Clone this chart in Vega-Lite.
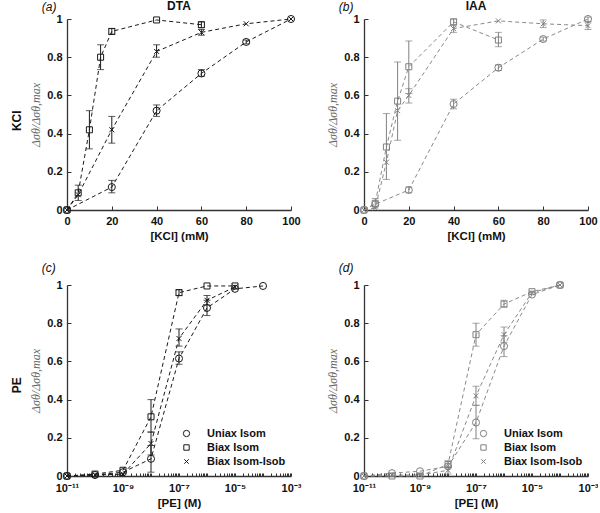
{
  "$schema": "https://vega.github.io/schema/vega-lite/v6.json",
  "background": "white",
  "padding": {"left": 10, "top": 0, "right": 0, "bottom": 2},
  "config": {
    "view": {"stroke": null},
    "font": "Liberation Sans",
    "axis": {"domainColor": "#333", "domainWidth": 1.3, "tickColor": "#333", "tickWidth": 1, "tickSize": -4, "labelPadding": 9, "labelOverlap": false, "labelFlush": false, "labelFont": "Liberation Sans", "labelFontWeight": "bold", "labelFontSize": 11, "labelColor": "#111", "titleFont": "Liberation Sans", "titleFontWeight": "bold", "titleFontSize": 11.5, "titleColor": "#111", "grid": false},
    "axisY": {"titleFont": "Liberation Serif", "titleFontWeight": "normal", "titleFontStyle": "italic", "titleColor": "#666", "titleFontSize": 12, "titlePadding": 4},
    "axisX": {"titlePadding": 4},
    "title": {"font": "Liberation Sans", "color": "#111"},
    "legend": {"labelFont": "Liberation Sans", "labelFontWeight": "bold", "labelFontSize": 11, "labelColor": "#111"}
  },
  "datasets": {
    "d": [
      {"p":"a","s":"Uniax Isom","x":0,"y":0},
      {"p":"a","s":"Uniax Isom","x":20,"y":0.12,"lo":0.09,"hi":0.155},
      {"p":"a","s":"Uniax Isom","x":40,"y":0.52,"lo":0.49,"hi":0.55},
      {"p":"a","s":"Uniax Isom","x":60,"y":0.715,"lo":0.70,"hi":0.735},
      {"p":"a","s":"Uniax Isom","x":80,"y":0.88,"lo":0.87,"hi":0.89},
      {"p":"a","s":"Uniax Isom","x":100,"y":1.0},
      {"p":"a","s":"Biax Isom","x":0,"y":0},
      {"p":"a","s":"Biax Isom","x":5,"y":0.09,"lo":0.05,"hi":0.13},
      {"p":"a","s":"Biax Isom","x":10,"y":0.42,"lo":0.32,"hi":0.52},
      {"p":"a","s":"Biax Isom","x":15,"y":0.80,"lo":0.735,"hi":0.865},
      {"p":"a","s":"Biax Isom","x":20,"y":0.935,"lo":0.92,"hi":0.95},
      {"p":"a","s":"Biax Isom","x":40,"y":0.995},
      {"p":"a","s":"Biax Isom","x":60,"y":0.97,"lo":0.955,"hi":0.985},
      {"p":"a","s":"Biax Isom-Isob","x":0,"y":0},
      {"p":"a","s":"Biax Isom-Isob","x":5,"y":0.08},
      {"p":"a","s":"Biax Isom-Isob","x":20,"y":0.42,"lo":0.35,"hi":0.49},
      {"p":"a","s":"Biax Isom-Isob","x":40,"y":0.83,"lo":0.80,"hi":0.865},
      {"p":"a","s":"Biax Isom-Isob","x":60,"y":0.93,"lo":0.915,"hi":0.945},
      {"p":"a","s":"Biax Isom-Isob","x":80,"y":0.975},
      {"p":"a","s":"Biax Isom-Isob","x":100,"y":1.0},

      {"p":"b","s":"Uniax Isom","x":0,"y":0},
      {"p":"b","s":"Uniax Isom","x":5,"y":0.03},
      {"p":"b","s":"Uniax Isom","x":20,"y":0.105,"lo":0.09,"hi":0.12},
      {"p":"b","s":"Uniax Isom","x":40,"y":0.555,"lo":0.53,"hi":0.58},
      {"p":"b","s":"Uniax Isom","x":60,"y":0.745,"lo":0.73,"hi":0.76},
      {"p":"b","s":"Uniax Isom","x":80,"y":0.895,"lo":0.885,"hi":0.905},
      {"p":"b","s":"Uniax Isom","x":100,"y":1.0,"lo":0.985,"hi":1.01},
      {"p":"b","s":"Biax Isom","x":0,"y":0},
      {"p":"b","s":"Biax Isom","x":5,"y":0.035,"lo":0.01,"hi":0.06},
      {"p":"b","s":"Biax Isom","x":10,"y":0.33,"lo":0.16,"hi":0.505},
      {"p":"b","s":"Biax Isom","x":15,"y":0.57,"lo":0.365,"hi":0.775},
      {"p":"b","s":"Biax Isom","x":20,"y":0.75,"lo":0.61,"hi":0.885},
      {"p":"b","s":"Biax Isom","x":40,"y":0.985,"lo":0.97,"hi":1.0},
      {"p":"b","s":"Biax Isom","x":60,"y":0.89,"lo":0.855,"hi":0.93},
      {"p":"b","s":"Biax Isom-Isob","x":0,"y":0},
      {"p":"b","s":"Biax Isom-Isob","x":5,"y":0.01},
      {"p":"b","s":"Biax Isom-Isob","x":10,"y":0.25},
      {"p":"b","s":"Biax Isom-Isob","x":15,"y":0.52},
      {"p":"b","s":"Biax Isom-Isob","x":20,"y":0.60,"lo":0.56,"hi":0.635},
      {"p":"b","s":"Biax Isom-Isob","x":40,"y":0.95,"lo":0.93,"hi":0.965},
      {"p":"b","s":"Biax Isom-Isob","x":60,"y":0.99},
      {"p":"b","s":"Biax Isom-Isob","x":80,"y":0.975,"lo":0.955,"hi":0.995},
      {"p":"b","s":"Biax Isom-Isob","x":100,"y":0.965,"lo":0.945,"hi":0.985},

      {"p":"c","s":"Uniax Isom","x":1e-11,"y":0},
      {"p":"c","s":"Uniax Isom","x":1e-10,"y":0.005},
      {"p":"c","s":"Uniax Isom","x":1e-9,"y":0.02},
      {"p":"c","s":"Uniax Isom","x":1e-8,"y":0.09,"lo":0.02,"hi":0.16},
      {"p":"c","s":"Uniax Isom","x":1e-7,"y":0.615,"lo":0.585,"hi":0.65},
      {"p":"c","s":"Uniax Isom","x":1e-6,"y":0.88,"lo":0.84,"hi":0.92},
      {"p":"c","s":"Uniax Isom","x":1e-5,"y":0.98},
      {"p":"c","s":"Uniax Isom","x":1e-4,"y":0.995},
      {"p":"c","s":"Biax Isom","x":1e-11,"y":0},
      {"p":"c","s":"Biax Isom","x":1e-10,"y":0.01},
      {"p":"c","s":"Biax Isom","x":1e-9,"y":0.03},
      {"p":"c","s":"Biax Isom","x":1e-8,"y":0.31,"lo":0.23,"hi":0.40},
      {"p":"c","s":"Biax Isom","x":1e-7,"y":0.96,"lo":0.945,"hi":0.975},
      {"p":"c","s":"Biax Isom","x":1e-6,"y":0.995},
      {"p":"c","s":"Biax Isom","x":1e-5,"y":0.995},
      {"p":"c","s":"Biax Isom-Isob","x":1e-11,"y":0},
      {"p":"c","s":"Biax Isom-Isob","x":1e-10,"y":0.005},
      {"p":"c","s":"Biax Isom-Isob","x":1e-9,"y":0.01},
      {"p":"c","s":"Biax Isom-Isob","x":1e-8,"y":0.17,"lo":0.11,"hi":0.23},
      {"p":"c","s":"Biax Isom-Isob","x":1e-7,"y":0.72,"lo":0.68,"hi":0.77},
      {"p":"c","s":"Biax Isom-Isob","x":1e-6,"y":0.92,"lo":0.895,"hi":0.945},
      {"p":"c","s":"Biax Isom-Isob","x":1e-5,"y":0.99},

      {"p":"d","s":"Uniax Isom","x":1e-11,"y":0},
      {"p":"d","s":"Uniax Isom","x":1e-10,"y":0.015},
      {"p":"d","s":"Uniax Isom","x":1e-9,"y":0.025},
      {"p":"d","s":"Uniax Isom","x":1e-8,"y":0.05},
      {"p":"d","s":"Uniax Isom","x":1e-7,"y":0.28,"lo":0.195,"hi":0.37},
      {"p":"d","s":"Uniax Isom","x":1e-6,"y":0.68,"lo":0.625,"hi":0.735},
      {"p":"d","s":"Uniax Isom","x":1e-5,"y":0.95},
      {"p":"d","s":"Uniax Isom","x":1e-4,"y":1.0},
      {"p":"d","s":"Biax Isom","x":1e-11,"y":0},
      {"p":"d","s":"Biax Isom","x":1e-10,"y":0},
      {"p":"d","s":"Biax Isom","x":1e-9,"y":0},
      {"p":"d","s":"Biax Isom","x":1e-8,"y":0.06,"lo":0.045,"hi":0.08},
      {"p":"d","s":"Biax Isom","x":1e-7,"y":0.74,"lo":0.68,"hi":0.80},
      {"p":"d","s":"Biax Isom","x":1e-6,"y":0.90,"lo":0.885,"hi":0.92},
      {"p":"d","s":"Biax Isom","x":1e-5,"y":0.965},
      {"p":"d","s":"Biax Isom","x":1e-4,"y":1.0},
      {"p":"d","s":"Biax Isom-Isob","x":1e-11,"y":0},
      {"p":"d","s":"Biax Isom-Isob","x":1e-10,"y":0.005},
      {"p":"d","s":"Biax Isom-Isob","x":1e-9,"y":0.005},
      {"p":"d","s":"Biax Isom-Isob","x":1e-8,"y":0.03,"lo":0.01,"hi":0.05},
      {"p":"d","s":"Biax Isom-Isob","x":1e-7,"y":0.42,"lo":0.37,"hi":0.47},
      {"p":"d","s":"Biax Isom-Isob","x":1e-6,"y":0.74,"lo":0.70,"hi":0.78},
      {"p":"d","s":"Biax Isom-Isob","x":1e-5,"y":0.96},
      {"p":"d","s":"Biax Isom-Isob","x":1e-4,"y":1.0}
    ]
  },
  "resolve": {"scale": {"shape": "independent"}, "legend": {"shape": "independent"}},
  "spacing": 20,
  "vconcat": [
    {
      "title": {"text": "KCl", "orient": "left", "anchor": "middle", "fontSize": 12, "fontWeight": "bold", "offset": 6},
      "spacing": 25,
      "resolve": {"scale": {"shape": "independent"}, "legend": {"shape": "independent"}},
      "hconcat": [
        {
          "title": {"text": "(a)", "anchor": "start", "fontStyle": "italic", "fontWeight": "normal", "fontSize": 12, "offset": -14, "dx": 12},
          "resolve": {"scale": {"shape": "independent"}, "legend": {"shape": "independent"}},
          "vconcat": [
            {
              "data": {"name": "d"},
              "transform": [{"filter": "datum.p == 'a'"}],
              "width": 224, "height": 191,
              "title": {"text": "DTA", "fontSize": 12, "fontWeight": "bold", "offset": 0},
              "encoding": {"x": {"field": "x", "type": "quantitative", "scale": {"domain": [0, 100], "nice": false}, "axis": {"title": "[KCl] (mM)", "values": [0, 20, 40, 60, 80, 100], "format": "d"}}},
              "layer": [
                {"mark": {"type": "line", "strokeDash": [4, 3], "strokeWidth": 1, "color": "#1a1a1a"},
                 "encoding": {"y": {"field": "y", "type": "quantitative", "scale": {"domain": [0, 1], "nice": false}, "title": "Δσθ/Δσθ,max", "axis": {"values": [0, 0.2, 0.4, 0.6, 0.8, 1], "format": "~g", "labelOverlap": false}}, "detail": {"field": "s"}}},
                {"transform": [{"filter": "isValid(datum.lo)"}], "mark": {"type": "rule", "strokeWidth": 1, "color": "#1a1a1a"},
                 "encoding": {"y": {"field": "lo", "type": "quantitative", "title": "Δσθ/Δσθ,max", "axis": {"values": [0, 0.2, 0.4, 0.6, 0.8, 1], "format": "~g", "labelOverlap": false}}, "y2": {"field": "hi"}}},
                {"transform": [{"filter": "isValid(datum.lo)"}], "mark": {"type": "tick", "orient": "horizontal", "size": 7, "thickness": 1, "color": "#1a1a1a"},
                 "encoding": {"y": {"field": "lo", "type": "quantitative", "title": "Δσθ/Δσθ,max", "axis": {"values": [0, 0.2, 0.4, 0.6, 0.8, 1], "format": "~g", "labelOverlap": false}}}},
                {"transform": [{"filter": "isValid(datum.lo)"}], "mark": {"type": "tick", "orient": "horizontal", "size": 7, "thickness": 1, "color": "#1a1a1a"},
                 "encoding": {"y": {"field": "hi", "type": "quantitative", "title": "Δσθ/Δσθ,max", "axis": {"values": [0, 0.2, 0.4, 0.6, 0.8, 1], "format": "~g", "labelOverlap": false}}}},
                {"mark": {"type": "point", "filled": false, "strokeWidth": 1, "size": 50, "color": "#1a1a1a", "opacity": 1},
                 "encoding": {"y": {"field": "y", "type": "quantitative", "title": "Δσθ/Δσθ,max", "axis": {"values": [0, 0.2, 0.4, 0.6, 0.8, 1], "format": "~g", "labelOverlap": false}},
                   "shape": {"field": "s", "type": "nominal", "sort": null, "scale": {"domain": ["Uniax Isom", "Biax Isom", "Biax Isom-Isob"], "range": ["circle", "M-0.85,-0.85H0.85V0.85H-0.85Z", "M-0.7,-0.7L0.7,0.7M-0.7,0.7L0.7,-0.7"]}, "legend": null}}}
              ]
            }
          ]
        },
        {
          "title": {"text": "(b)", "anchor": "start", "fontStyle": "italic", "fontWeight": "normal", "fontSize": 12, "offset": -14, "dx": 12},
          "resolve": {"scale": {"shape": "independent"}, "legend": {"shape": "independent"}},
          "vconcat": [
            {
              "data": {"name": "d"},
              "transform": [{"filter": "datum.p == 'b'"}],
              "width": 224, "height": 191,
              "title": {"text": "IAA", "fontSize": 12, "fontWeight": "bold", "offset": 0},
              "encoding": {"x": {"field": "x", "type": "quantitative", "scale": {"domain": [0, 100], "nice": false}, "axis": {"title": "[KCl] (mM)", "values": [0, 20, 40, 60, 80, 100], "format": "d"}}},
              "layer": [
                {"mark": {"type": "line", "strokeDash": [4, 3], "strokeWidth": 1, "color": "#8a8a8a"},
                 "encoding": {"y": {"field": "y", "type": "quantitative", "scale": {"domain": [0, 1], "nice": false}, "title": "Δσθ/Δσθ,max", "axis": {"values": [0, 0.2, 0.4, 0.6, 0.8, 1], "format": "~g", "labelOverlap": false}}, "detail": {"field": "s"}}},
                {"transform": [{"filter": "isValid(datum.lo)"}], "mark": {"type": "rule", "strokeWidth": 1, "color": "#808080"},
                 "encoding": {"y": {"field": "lo", "type": "quantitative", "title": "Δσθ/Δσθ,max", "axis": {"values": [0, 0.2, 0.4, 0.6, 0.8, 1], "format": "~g", "labelOverlap": false}}, "y2": {"field": "hi"}}},
                {"transform": [{"filter": "isValid(datum.lo)"}], "mark": {"type": "tick", "orient": "horizontal", "size": 7, "thickness": 1, "color": "#808080"},
                 "encoding": {"y": {"field": "lo", "type": "quantitative", "title": "Δσθ/Δσθ,max", "axis": {"values": [0, 0.2, 0.4, 0.6, 0.8, 1], "format": "~g", "labelOverlap": false}}}},
                {"transform": [{"filter": "isValid(datum.lo)"}], "mark": {"type": "tick", "orient": "horizontal", "size": 7, "thickness": 1, "color": "#808080"},
                 "encoding": {"y": {"field": "hi", "type": "quantitative", "title": "Δσθ/Δσθ,max", "axis": {"values": [0, 0.2, 0.4, 0.6, 0.8, 1], "format": "~g", "labelOverlap": false}}}},
                {"mark": {"type": "point", "filled": false, "strokeWidth": 1, "size": 50, "color": "#808080", "opacity": 1},
                 "encoding": {"y": {"field": "y", "type": "quantitative", "title": "Δσθ/Δσθ,max", "axis": {"values": [0, 0.2, 0.4, 0.6, 0.8, 1], "format": "~g", "labelOverlap": false}},
                   "shape": {"field": "s", "type": "nominal", "sort": null, "scale": {"domain": ["Uniax Isom", "Biax Isom", "Biax Isom-Isob"], "range": ["circle", "M-0.85,-0.85H0.85V0.85H-0.85Z", "M-0.7,-0.7L0.7,0.7M-0.7,0.7L0.7,-0.7"]}, "legend": null}}}
              ]
            }
          ]
        }
      ]
    },
    {
      "title": {"text": "PE", "orient": "left", "anchor": "middle", "fontSize": 12, "fontWeight": "bold", "offset": 6},
      "spacing": 25,
      "resolve": {"scale": {"shape": "independent"}, "legend": {"shape": "independent"}},
      "hconcat": [
        {
          "data": {"name": "d"},
          "transform": [{"filter": "datum.p == 'c'"}],
          "width": 224, "height": 191,
          "title": {"text": "(c)", "anchor": "start", "frame": "bounds", "fontStyle": "italic", "fontWeight": "normal", "fontSize": 12, "offset": 4, "dx": 12},
          "encoding": {"x": {"field": "x", "type": "quantitative", "scale": {"type": "log", "domain": [1e-11, 1e-3], "nice": false}, "axis": {"title": "[PE] (M)", "tickSize": -3, "labelFlush": false, "values": [1e-11,2e-11,3e-11,4e-11,5e-11,6e-11,7e-11,8e-11,9e-11,1e-10,2e-10,3e-10,4e-10,5e-10,6e-10,7e-10,8e-10,9e-10,1e-9,2e-9,3e-9,4e-9,5e-9,6e-9,7e-9,8e-9,9e-9,1e-8,2e-8,3e-8,4e-8,5e-8,6e-8,7e-8,8e-8,9e-8,1e-7,2e-7,3e-7,4e-7,5e-7,6e-7,7e-7,8e-7,9e-7,1e-6,2e-6,3e-6,4e-6,5e-6,6e-6,7e-6,8e-6,9e-6,1e-5,2e-5,3e-5,4e-5,5e-5,6e-5,7e-5,8e-5,9e-5,1e-4,2e-4,3e-4,4e-4,5e-4,6e-4,7e-4,8e-4,9e-4,1e-3], "labelExpr": "datum.value == 1e-11 ? '10⁻¹¹' : datum.value == 1e-9 ? '10⁻⁹' : datum.value == 1e-7 ? '10⁻⁷' : datum.value == 1e-5 ? '10⁻⁵' : datum.value == 1e-3 ? '10⁻³' : ''"}}},
          "layer": [
            {"mark": {"type": "line", "strokeDash": [4, 3], "strokeWidth": 1, "color": "#1a1a1a"},
             "encoding": {"y": {"field": "y", "type": "quantitative", "scale": {"domain": [0, 1], "nice": false}, "title": "Δσθ/Δσθ,max", "axis": {"values": [0, 0.2, 0.4, 0.6, 0.8, 1], "format": "~g", "labelOverlap": false}}, "detail": {"field": "s"}}},
            {"transform": [{"filter": "isValid(datum.lo)"}], "mark": {"type": "rule", "strokeWidth": 1, "color": "#1a1a1a"},
             "encoding": {"y": {"field": "lo", "type": "quantitative", "title": "Δσθ/Δσθ,max", "axis": {"values": [0, 0.2, 0.4, 0.6, 0.8, 1], "format": "~g", "labelOverlap": false}}, "y2": {"field": "hi"}}},
            {"transform": [{"filter": "isValid(datum.lo)"}], "mark": {"type": "tick", "orient": "horizontal", "size": 7, "thickness": 1, "color": "#1a1a1a"},
             "encoding": {"y": {"field": "lo", "type": "quantitative", "title": "Δσθ/Δσθ,max", "axis": {"values": [0, 0.2, 0.4, 0.6, 0.8, 1], "format": "~g", "labelOverlap": false}}}},
            {"transform": [{"filter": "isValid(datum.lo)"}], "mark": {"type": "tick", "orient": "horizontal", "size": 7, "thickness": 1, "color": "#1a1a1a"},
             "encoding": {"y": {"field": "hi", "type": "quantitative", "title": "Δσθ/Δσθ,max", "axis": {"values": [0, 0.2, 0.4, 0.6, 0.8, 1], "format": "~g", "labelOverlap": false}}}},
            {"mark": {"type": "point", "filled": false, "strokeWidth": 1, "size": 50, "color": "#1a1a1a", "opacity": 1},
             "encoding": {"y": {"field": "y", "type": "quantitative", "title": "Δσθ/Δσθ,max", "axis": {"values": [0, 0.2, 0.4, 0.6, 0.8, 1], "format": "~g", "labelOverlap": false}},
               "shape": {"field": "s", "type": "nominal", "sort": null, "scale": {"domain": ["Uniax Isom", "Biax Isom", "Biax Isom-Isob"], "range": ["circle", "M-0.85,-0.85H0.85V0.85H-0.85Z", "M-0.7,-0.7L0.7,0.7M-0.7,0.7L0.7,-0.7"]},
                 "legend": {"title": null, "orient": "none", "legendX": 114, "legendY": 143, "padding": 0, "rowPadding": 2, "labelOffset": 15, "symbolSize": 40, "symbolStrokeColor": "#1a1a1a", "symbolStrokeWidth": 1}}}}
          ]
        },
        {
          "data": {"name": "d"},
          "transform": [{"filter": "datum.p == 'd'"}],
          "width": 224, "height": 191,
          "title": {"text": "(d)", "anchor": "start", "frame": "bounds", "fontStyle": "italic", "fontWeight": "normal", "fontSize": 12, "offset": 4, "dx": 12},
          "encoding": {"x": {"field": "x", "type": "quantitative", "scale": {"type": "log", "domain": [1e-11, 1e-3], "nice": false}, "axis": {"title": "[PE] (M)", "tickSize": -3, "labelFlush": false, "values": [1e-11,2e-11,3e-11,4e-11,5e-11,6e-11,7e-11,8e-11,9e-11,1e-10,2e-10,3e-10,4e-10,5e-10,6e-10,7e-10,8e-10,9e-10,1e-9,2e-9,3e-9,4e-9,5e-9,6e-9,7e-9,8e-9,9e-9,1e-8,2e-8,3e-8,4e-8,5e-8,6e-8,7e-8,8e-8,9e-8,1e-7,2e-7,3e-7,4e-7,5e-7,6e-7,7e-7,8e-7,9e-7,1e-6,2e-6,3e-6,4e-6,5e-6,6e-6,7e-6,8e-6,9e-6,1e-5,2e-5,3e-5,4e-5,5e-5,6e-5,7e-5,8e-5,9e-5,1e-4,2e-4,3e-4,4e-4,5e-4,6e-4,7e-4,8e-4,9e-4,1e-3], "labelExpr": "datum.value == 1e-11 ? '10⁻¹¹' : datum.value == 1e-9 ? '10⁻⁹' : datum.value == 1e-7 ? '10⁻⁷' : datum.value == 1e-5 ? '10⁻⁵' : datum.value == 1e-3 ? '10⁻³' : ''"}}},
          "layer": [
            {"mark": {"type": "line", "strokeDash": [4, 3], "strokeWidth": 1, "color": "#8a8a8a"},
             "encoding": {"y": {"field": "y", "type": "quantitative", "scale": {"domain": [0, 1], "nice": false}, "title": "Δσθ/Δσθ,max", "axis": {"values": [0, 0.2, 0.4, 0.6, 0.8, 1], "format": "~g", "labelOverlap": false}}, "detail": {"field": "s"}}},
            {"transform": [{"filter": "isValid(datum.lo)"}], "mark": {"type": "rule", "strokeWidth": 1, "color": "#808080"},
             "encoding": {"y": {"field": "lo", "type": "quantitative", "title": "Δσθ/Δσθ,max", "axis": {"values": [0, 0.2, 0.4, 0.6, 0.8, 1], "format": "~g", "labelOverlap": false}}, "y2": {"field": "hi"}}},
            {"transform": [{"filter": "isValid(datum.lo)"}], "mark": {"type": "tick", "orient": "horizontal", "size": 7, "thickness": 1, "color": "#808080"},
             "encoding": {"y": {"field": "lo", "type": "quantitative", "title": "Δσθ/Δσθ,max", "axis": {"values": [0, 0.2, 0.4, 0.6, 0.8, 1], "format": "~g", "labelOverlap": false}}}},
            {"transform": [{"filter": "isValid(datum.lo)"}], "mark": {"type": "tick", "orient": "horizontal", "size": 7, "thickness": 1, "color": "#808080"},
             "encoding": {"y": {"field": "hi", "type": "quantitative", "title": "Δσθ/Δσθ,max", "axis": {"values": [0, 0.2, 0.4, 0.6, 0.8, 1], "format": "~g", "labelOverlap": false}}}},
            {"mark": {"type": "point", "filled": false, "strokeWidth": 1, "size": 50, "color": "#808080", "opacity": 1},
             "encoding": {"y": {"field": "y", "type": "quantitative", "title": "Δσθ/Δσθ,max", "axis": {"values": [0, 0.2, 0.4, 0.6, 0.8, 1], "format": "~g", "labelOverlap": false}},
               "shape": {"field": "s", "type": "nominal", "sort": null, "scale": {"domain": ["Uniax Isom", "Biax Isom", "Biax Isom-Isob"], "range": ["circle", "M-0.85,-0.85H0.85V0.85H-0.85Z", "M-0.7,-0.7L0.7,0.7M-0.7,0.7L0.7,-0.7"]},
                 "legend": {"title": null, "orient": "none", "legendX": 114, "legendY": 143, "padding": 0, "rowPadding": 2, "labelOffset": 15, "symbolSize": 40, "symbolStrokeColor": "#808080", "symbolStrokeWidth": 1}}}}
          ]
        }
      ]
    }
  ]
}
